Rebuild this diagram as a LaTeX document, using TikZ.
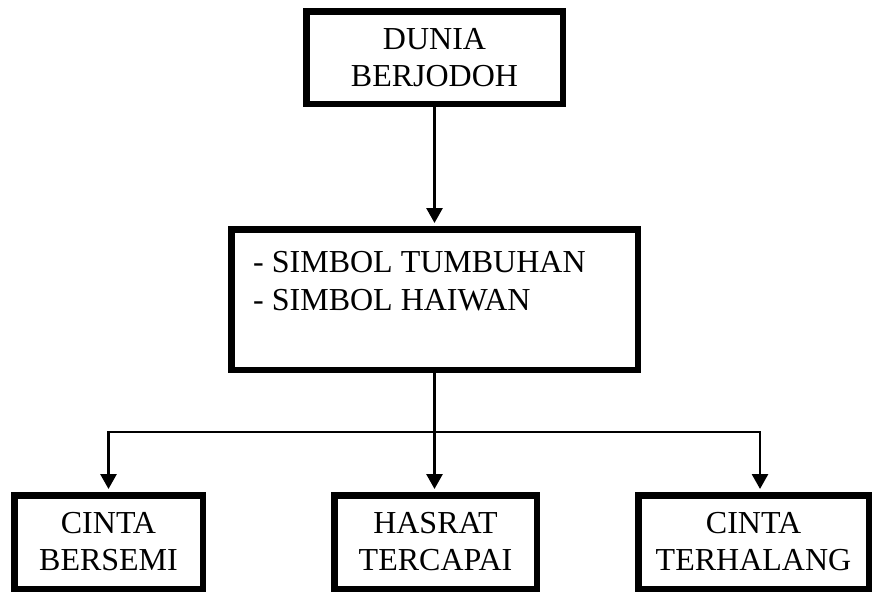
\documentclass[tikz,border=0pt]{standalone}
\usepackage{fontspec}
\setmainfont{Liberation Serif}
\usetikzlibrary{arrows.meta,calc}

\begin{document}
\begin{tikzpicture}[x=1pt,y=1pt,
  box/.style={draw=black, line width=6.5pt, fill=white, rectangle, inner sep=0pt,
              align=center, font=\fontsize{32}{37}\selectfont},
  link/.style={draw=black, line width=2.8pt},
  arr/.style={link, -{Triangle[length=15pt,width=16pt]}, shorten >=3pt}
]
\useasboundingbox (0,0) rectangle (874,-592);

% boxes
\node[box, minimum width=256.5pt, minimum height=92.5pt] (top) at (434.5,-57.5) {DUNIA\\BERJODOH};
\node[box, minimum width=406.5pt, minimum height=140.5pt] (mid) at (434.5,-299.5) {};
% list text sits in the upper left of the middle box (baseline of its last line)
\node[anchor=base west, inner sep=0pt, align=left, font=\fontsize{32}{38}\selectfont]
  (midtext) at (253,-310) {- SIMBOL TUMBUHAN\\- SIMBOL HAIWAN};

\node[box, minimum width=188.5pt, minimum height=93.5pt] (bl) at (108.5,-542) {CINTA\\BERSEMI};
\node[box, minimum width=202.5pt, minimum height=93.5pt] (bm) at (435.5,-542) {HASRAT\\TERCAPAI};
\node[box, minimum width=230.5pt, minimum height=93.5pt] (br) at (753.5,-542) {CINTA\\TERHALANG};

% connectors
\draw[arr] (top.south) -- (mid.north);
\coordinate (junction) at ($(mid.south)+(0,-59)$);
\draw[link] (mid.south) -- (junction);
\draw[arr] (junction) -| (bl.north);
\draw[arr] (junction) -- (junction |- bm.north);
\draw[arr] (junction) -| ([xshift=6.5pt]br.north);
\end{tikzpicture}
\end{document}
